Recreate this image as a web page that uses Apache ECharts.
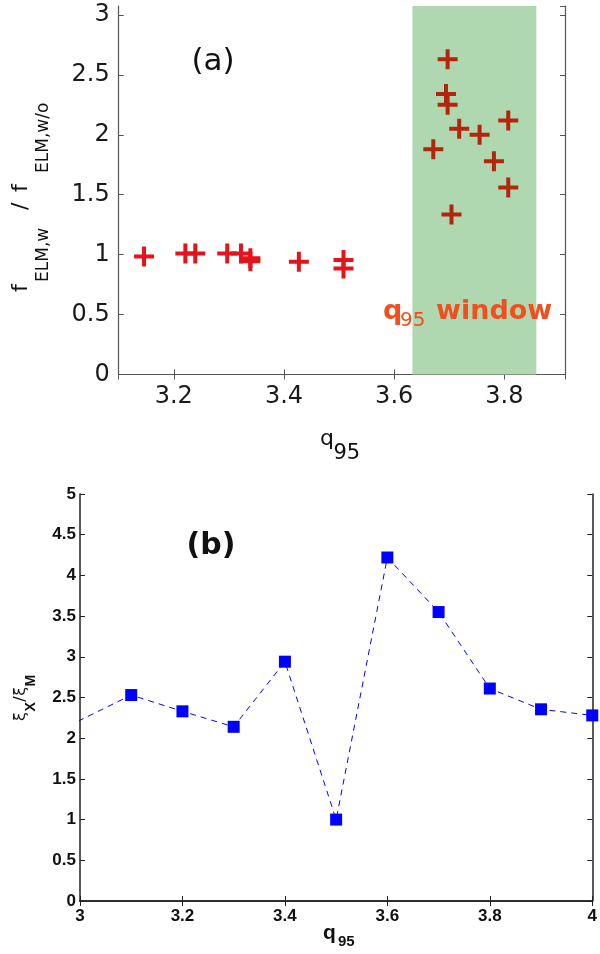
<!DOCTYPE html>
<html><head><meta charset="utf-8">
<script src="https://cdn.jsdelivr.net/npm/echarts@6/dist/echarts.min.js"></script>
<style>html,body{margin:0;padding:0;background:#fff}#c{width:600px;height:954px}</style>
</head><body><div id="c"></div>
<script>
// ---- Panel (a) data ----
const qLow  = [3.146, 3.221, 3.239, 3.297, 3.322, 3.339, 3.339, 3.427, 3.508, 3.508];
const fLow  = [0.985, 1.01, 1.01, 1.01, 1.01, 0.97, 0.945, 0.94, 0.955, 0.885];
const qHigh = [3.697, 3.694, 3.697, 3.718, 3.755, 3.807, 3.671, 3.781, 3.807, 3.704];
const fHigh = [2.63, 2.34, 2.25, 2.05, 2.0, 2.12, 1.88, 1.78, 1.56, 1.335];
const q95Window = [3.633, 3.858];
const aXRange = [3.1, 3.91];
const aYRange = [0, 3.075];
// ---- Panel (b) data ----
const qB = [2.9, 3.1, 3.2, 3.3, 3.4, 3.5, 3.6, 3.7, 3.8, 3.9, 4.0];
const xiRatio = [1.91, 2.53, 2.33, 2.14, 2.94, 1.0, 4.22, 3.55, 2.61, 2.355, 2.28];
const bXRange = [3, 4];
const bYRange = [0, 5];

const zip = (a, b) => a.map((v, i) => [v, b[i]]);
const plus = 'path://M8,0H12V8H20V12H12V20H8V12H0V8H8Z';

const chart = echarts.init(document.getElementById('c'), null, {renderer: 'canvas'});

const fa = 'DejaVu Sans';
const fb = 'Liberation Sans';
const axA = '#555';
const axB = '#222';

const mctx = document.createElement('canvas').getContext('2d');
function measure(text, font) { mctx.font = font; return mctx.measureText(text).width; }

function txt(text, x, y, opts, rot) {
  const el = {
    type: 'text', x: x, y: y, silent: true, z: 100,
    style: Object.assign({text: text, align: 'center', verticalAlign: 'middle',
      textAlign: 'center', textVerticalAlign: 'middle', fill: '#111'}, opts || {})
  };
  if (rot) el.rotation = Math.PI / 2;
  return el;
}
// rotated text piece: starts at screen y0 (bottom), centre line at screen x
function rpiece(text, x, y0, font, fill) {
  return txt(text, x, y0, {font: font, align: 'left', textAlign: 'left', fill: fill || '#111'}, true);
}

// Panel (a) y title pieces (positions along the axis)
const fMain = '22px "DejaVu Sans"';
const fSub = '17px "DejaVu Sans"';
const yTitleA = [
  rpiece('f', 21.5, 292, fMain),
  rpiece('ELM,w', 44, 282, fSub),
  rpiece('/', 21.5, 210, fMain),
  rpiece('f', 21.5, 192, fMain),
  rpiece('ELM,w/o', 44, 173, fSub)
];
// Panel (b) y title pieces, laid out sequentially
const bMain = '16px "DejaVu Sans"';
const bSub = 'bold 14px "Liberation Sans"';
const bParts = [['ξ', bMain, 21], ['X', bSub, 31], ['/', bMain, 21], ['ξ', bMain, 21], ['M', bSub, 31]];
const yTitleB = [];
let yb = 721;
bParts.forEach(p => { yTitleB.push(rpiece(p[0], p[2], yb, p[1])); yb -= measure(p[0], p[1]) + 0.5; });

const option = {
  animation: false,
  backgroundColor: '#fff',
  grid: [
    {left: 118.7, top: 6, width: 446.3, height: 368.5},
    {left: 80, top: 494, width: 516, height: 407}
  ],
  xAxis: [
    {gridIndex: 0, type: 'value', min: aXRange[0], max: aXRange[1], splitNumber: 4, position: 'bottom',
     axisLine: {lineStyle: {color: axA, width: 1.2}}, axisTick: {inside: true, length: 5, lineStyle: {color: axA}},
     splitLine: {show: false},
     axisLabel: {fontFamily: fa, fontSize: 24, color: '#1a1a1a', margin: 10, showMinLabel: false, showMaxLabel: false}},
    {gridIndex: 0, type: 'value', min: aXRange[0], max: aXRange[1], splitNumber: 4, position: 'top',
     axisLine: {lineStyle: {color: axA, width: 1.2}}, axisTick: {inside: true, length: 5, lineStyle: {color: axA}},
     splitLine: {show: false}, axisLabel: {show: false}},
    {gridIndex: 1, type: 'value', min: bXRange[0], max: bXRange[1], interval: 0.2, position: 'bottom',
     axisLine: {lineStyle: {color: axB, width: 1.5}}, axisTick: {inside: true, length: 5, lineStyle: {color: axB}},
     splitLine: {show: false},
     axisLabel: {fontFamily: fb, fontWeight: 'bold', fontSize: 17, color: '#111', margin: 7}},
    {gridIndex: 1, type: 'value', min: bXRange[0], max: bXRange[1], interval: 0.2, position: 'top',
     axisLine: {lineStyle: {color: axB, width: 1.5}}, axisTick: {inside: true, length: 5, lineStyle: {color: axB}},
     splitLine: {show: false}, axisLabel: {show: false}}
  ],
  yAxis: [
    {gridIndex: 0, type: 'value', min: aYRange[0], max: aYRange[1], interval: 0.5, position: 'left',
     axisLine: {show: true, lineStyle: {color: axA, width: 1.2}}, axisTick: {show: true, inside: true, length: 5, lineStyle: {color: axA}},
     splitLine: {show: false},
     axisLabel: {fontFamily: fa, fontSize: 24, color: '#1a1a1a', margin: 9, showMaxLabel: false}},
    {gridIndex: 0, type: 'value', min: aYRange[0], max: aYRange[1], interval: 0.5, position: 'right',
     axisLine: {show: true, lineStyle: {color: axA, width: 1.2}}, axisTick: {show: true, inside: true, length: 5, lineStyle: {color: axA}},
     splitLine: {show: false}, axisLabel: {show: false}},
    {gridIndex: 1, type: 'value', min: bYRange[0], max: bYRange[1], interval: 0.5, position: 'left',
     axisLine: {show: true, lineStyle: {color: axB, width: 1.5}}, axisTick: {show: true, inside: true, length: 5, lineStyle: {color: axB}},
     splitLine: {show: false},
     axisLabel: {fontFamily: fb, fontWeight: 'bold', fontSize: 17, color: '#111', margin: 4}},
    {gridIndex: 1, type: 'value', min: bYRange[0], max: bYRange[1], interval: 0.5, position: 'right',
     axisLine: {show: true, lineStyle: {color: axB, width: 1.5}}, axisTick: {show: true, inside: true, length: 5, lineStyle: {color: axB}},
     splitLine: {show: false}, axisLabel: {show: false}}
  ],
  series: [
    {type: 'scatter', xAxisIndex: 0, yAxisIndex: 0, z: 1, data: zip(qLow, fLow),
     symbol: plus, symbolSize: 20, itemStyle: {color: '#e3141b', opacity: 1},
     markArea: {silent: true, itemStyle: {color: '#b0d8b0', opacity: 1},
       data: [[{xAxis: q95Window[0]}, {xAxis: q95Window[1]}]]}},
    {type: 'scatter', xAxisIndex: 0, yAxisIndex: 0, z: 3, data: zip(qHigh, fHigh),
     symbol: plus, symbolSize: 20, itemStyle: {color: '#b3260d', opacity: 1}},
    {type: 'line', xAxisIndex: 2, yAxisIndex: 2, z: 3, data: zip(qB, xiRatio), clip: true,
     symbol: 'rect', symbolSize: 12, showAllSymbol: true,
     lineStyle: {color: '#0000ff', width: 1, type: [6, 5]},
     itemStyle: {color: '#0000ff', opacity: 1}}
  ],
  graphic: [
    txt('(a)', 213, 62, {font: '31px "DejaVu Sans"'}),
    txt('(b)', 211, 546, {font: 'bold 30px "DejaVu Sans"'}),
    // q95 window annotation
    txt('q', 383, 312, {font: 'bold 27px "DejaVu Sans"', fill: '#f0501e', align: 'left', textAlign: 'left'}),
    txt('95', 400, 321, {font: '20px "DejaVu Sans"', fill: '#f0501e', align: 'left', textAlign: 'left'}),
    txt('window', 436, 312, {font: 'bold 27px "DejaVu Sans"', fill: '#f0501e', align: 'left', textAlign: 'left'}),
    // panel (a) x title
    txt('q', 320, 439.4, {font: '22px "DejaVu Sans"', align: 'left', textAlign: 'left'}),
    txt('95', 333.5, 453.7, {font: '21px "DejaVu Sans"', align: 'left', textAlign: 'left'}),
    // panel (b) x title
    txt('q', 323, 933, {font: 'bold 21px "Liberation Sans"', align: 'left', textAlign: 'left'}),
    txt('95', 338, 942, {font: 'bold 15px "Liberation Sans"', align: 'left', textAlign: 'left'})
  ].concat(yTitleA, yTitleB)
};
chart.setOption(option);
</script>
</body></html>
